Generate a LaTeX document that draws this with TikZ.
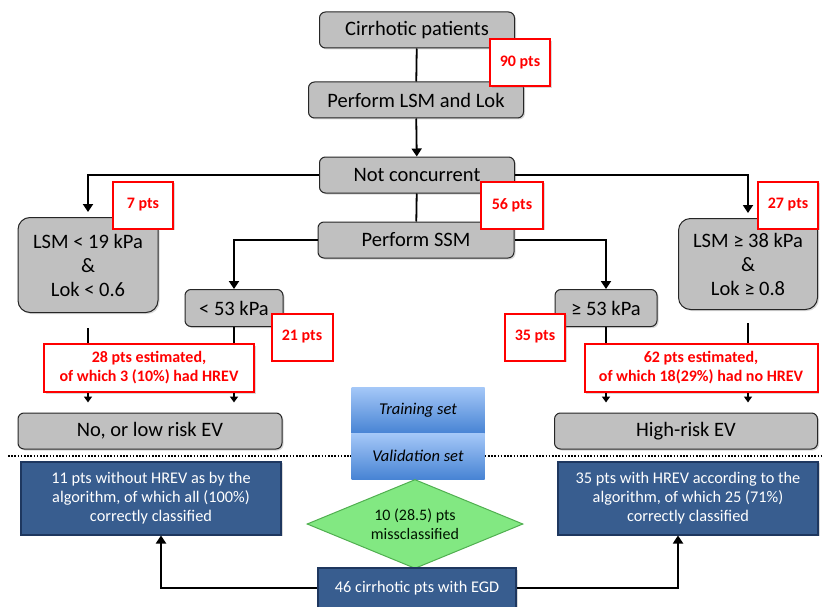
\documentclass[tikz,border=0pt]{standalone}
\usepackage{fontspec}
\setmainfont{Carlito}
\usetikzlibrary{arrows.meta,shapes.geometric,positioning,shadows}

\definecolor{boxgray}{RGB}{192,192,192}
\definecolor{ptsred}{RGB}{255,0,0}
\definecolor{algoblue}{RGB}{56,93,143}
\definecolor{algoline}{RGB}{30,55,95}
\definecolor{missgreen}{RGB}{130,232,130}
\definecolor{missline}{RGB}{80,175,80}
\definecolor{trainlight}{RGB}{165,200,248}
\definecolor{traindark}{RGB}{72,132,212}

\tikzset{
    flowbox/.style={draw=black!85, fill=boxgray, rounded corners=6pt, line width=1pt,
        font=\fontsize{20.5}{24}\selectfont, align=center, inner sep=0pt,
        drop shadow={opacity=0.3,shadow xshift=1.5pt,shadow yshift=-1.5pt}},
    ptsbox/.style={draw=ptsred, fill=white, line width=2pt, text=ptsred, align=center,
        font=\bfseries\fontsize{16}{19}\selectfont, inner sep=0pt,
        drop shadow={opacity=0.3,shadow xshift=1.5pt,shadow yshift=-1.5pt}},
    algobox/.style={draw=algoline, fill=algoblue, line width=2pt, text=white, align=center,
        font=\fontsize{16.3}{19}\selectfont, inner sep=0pt,
        drop shadow={opacity=0.3,shadow xshift=1.5pt,shadow yshift=-1.5pt}},
    setbox/.style={top color=trainlight, bottom color=traindark, draw=none,
        minimum width=133pt, minimum height=46pt, inner sep=0pt,
        font=\itshape\fontsize{16.5}{19}\selectfont},
    flowline/.style={line width=1.8pt, black},
    flowarrow/.style={flowline, -{Triangle[length=8pt,width=10pt]}},
    smallarrow/.style={flowline, -{Triangle[length=6pt,width=8pt]}},
    sepline/.style={line width=1.6pt, dash pattern=on 1.6pt off 1.6pt}
}

\begin{document}
\begin{tikzpicture}[x=1pt,y=-1pt]
    \useasboundingbox (0,0) rectangle (824,607);

    % --- Main flow ---
    \node[flowbox, minimum width=195pt, minimum height=36pt] (cirr) at (417,30) {Cirrhotic patients};
    \node[flowbox, minimum width=215pt, minimum height=36pt] (lsmlok) at (416,100) {Perform LSM and Lok};
    \node[flowbox, minimum width=195pt, minimum height=36pt] (notconc) at (417,175) {Not concurrent};
    \node[flowbox, minimum width=196pt, minimum height=36pt] (ssm) at (416,240) {Perform SSM};

    % branches
    \node[flowbox, rounded corners=12pt, minimum width=140pt, minimum height=95pt] (lsmlow) at (88,265)
        {LSM < 19 kPa\\ \&\\ Lok < 0.6};
    \node[flowbox, rounded corners=12pt, minimum width=139pt, minimum height=91pt] (lsmhigh) at (748,264)
        {LSM ≥ 38 kPa\\ \&\\ Lok ≥ 0.8};
    \node[flowbox, minimum width=98pt, minimum height=37pt] (kpalow) at (234,308) {< 53 kPa};
    \node[flowbox, minimum width=102pt, minimum height=37pt] (kpahigh) at (606,308) {≥ 53 kPa};

    % outcomes
    \node[flowbox, minimum width=264pt, minimum height=36pt] (lowev) at (150,431) {No, or low risk EV};
    \node[flowbox, minimum width=263pt, minimum height=36pt] (highev) at (686,431) {High-risk EV};

    % --- Connectors ---
    \draw[flowline] (cirr) -- (lsmlok);
    \draw[flowarrow] (lsmlok) -- (notconc);
    \draw[flowline] (notconc) -- (ssm);
    \draw[flowarrow, shorten >=5pt] (notconc.west) -| (lsmlow.north);
    \draw[flowarrow, shorten >=5pt] (notconc.east) -| (lsmhigh.north);
    \draw[flowarrow] (ssm.west) -| (kpalow.north);
    \draw[flowarrow] (ssm.east) -| (kpahigh.north);

    % estimates
    \node[ptsbox, minimum width=210pt, minimum height=48pt] (estlow) at (149,368)
        {28 pts estimated,\\of which 3 (10\%) had HREV};
    \node[ptsbox, minimum width=233pt, minimum height=48pt] (esthigh) at (701,368)
        {62 pts estimated,\\of which 18(29\%) had no HREV};

    \draw[flowline, shorten <=15pt] (lsmlow.south) -- (lsmlow.south |- estlow.north);
    \draw[flowline] (kpalow.south) -- (kpalow.south |- estlow.north);
    \draw[flowline, shorten <=13pt] (lsmhigh.south) -- (lsmhigh.south |- esthigh.north);
    \draw[flowline] (kpahigh.south) -- (kpahigh.south |- esthigh.north);

    \draw[smallarrow, shorten >=10pt] (estlow.south -| lsmlow) -- (lowev.north -| lsmlow);
    \draw[smallarrow, shorten >=10pt] (estlow.south -| kpalow) -- (lowev.north -| kpalow);
    \draw[smallarrow, shorten >=10pt] (esthigh.south -| kpahigh) -- (highev.north -| kpahigh);
    \draw[smallarrow, shorten >=10pt] (esthigh.south -| lsmhigh) -- (highev.north -| lsmhigh);

    % patient counts
    \node[ptsbox, minimum width=60pt, minimum height=47pt] (pts90) at (520,63) {90 pts};
    \node[ptsbox, minimum width=60pt, minimum height=47pt] (pts7) at (143,205) {7 pts};
    \node[ptsbox, minimum width=62pt, minimum height=47pt] (pts56) at (512,205) {56 pts};
    \node[ptsbox, minimum width=60pt, minimum height=47pt] (pts27) at (788,205) {27 pts};
    \node[ptsbox, minimum width=61pt, minimum height=47pt] (pts21) at (302,337) {21 pts};
    \node[ptsbox, minimum width=60pt, minimum height=47pt] (pts35) at (535,337) {35 pts};

    % --- Training / validation ---
    \node[setbox] (train) at (418,410) {Training set};
    \node[setbox] (valid) at (418,456) {Validation set};

    \coordinate (sepL) at (8,456);
    \coordinate (sepR) at (822,456);
    \draw[sepline] (sepL) -- (sepL -| valid.west);
    \draw[sepline] (valid.east |- sepR) -- (sepR);

    % validation results
    \node[algobox, minimum width=260pt, minimum height=73pt] (algolow) at (151,498)
        {11 pts without HREV as by the\\algorithm, of which all (100\%)\\correctly classified};
    \node[algobox, minimum width=260pt, minimum height=73pt] (algohigh) at (688,498)
        {35 pts with HREV according to the\\algorithm, of which 25 (71\%)\\correctly classified};
    \node[diamond, aspect=2.4, draw=missline, fill=missgreen, line width=1pt, inner sep=0pt,
        minimum width=216pt, minimum height=89pt, align=center, text=black!80!green!40!black,
        font=\fontsize{16}{19}\selectfont] (miss) at (415,524) {10 (28.5) pts\\missclassified};
    \node[algobox, minimum width=198pt, minimum height=40pt] (egd) at (417,588) {46 cirrhotic pts with EGD};

    \draw[flowarrow] (egd.west) -| ([xshift=10pt]algolow.south);
    \draw[flowarrow] (egd.east) -| ([xshift=-10pt]algohigh.south);

\end{tikzpicture}
\end{document}
